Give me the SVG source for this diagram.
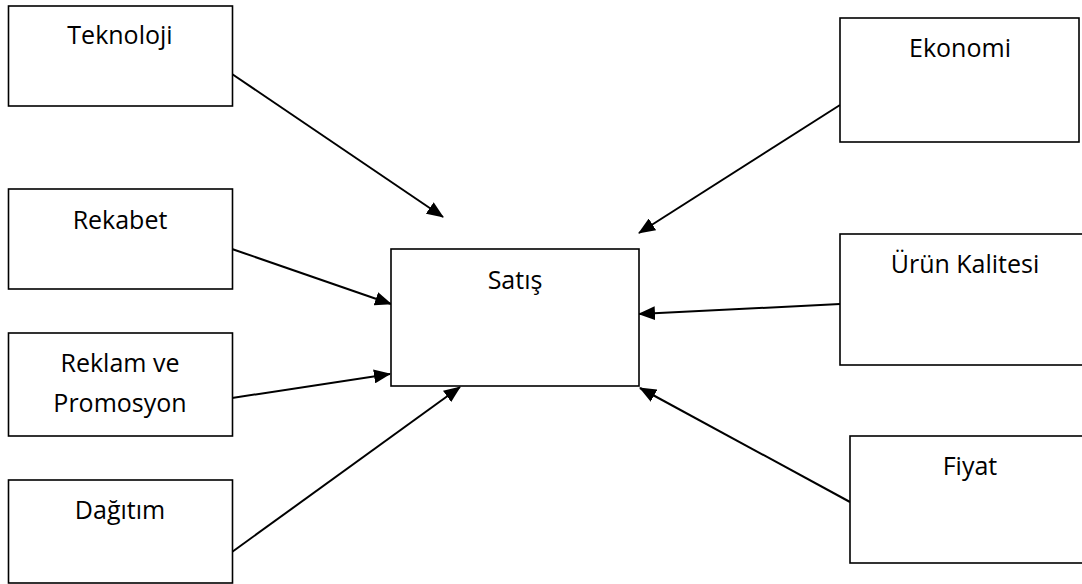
<svg xmlns="http://www.w3.org/2000/svg" width="1082" height="584" viewBox="0 0 1082 584">
<style>
.box{fill:#fff;stroke:#000;stroke-width:1.6}
.lbl{font-family:"Open Sans","Liberation Sans",sans-serif;font-size:25px;fill:#000;text-anchor:middle}
.con{stroke:#000;stroke-width:2;fill:none;marker-end:url(#ah)}
</style>
<defs>
<marker id="ah" markerUnits="userSpaceOnUse" markerWidth="18" markerHeight="14" refX="16" refY="7" orient="auto">
<path d="M0,0 L17,7 L0,14 Z" fill="#000"/>
</marker>
</defs>
<rect width="1082" height="584" fill="#fff"/>
<g id="connectors">
<line class="con" x1="232" y1="74" x2="443" y2="217"/>
<line class="con" x1="840" y1="105" x2="639" y2="233"/>
<line class="con" x1="232" y1="249" x2="391" y2="304"/>
<line class="con" x1="232" y1="398" x2="390" y2="374"/>
<line class="con" x1="232" y1="552" x2="460" y2="387"/>
<line class="con" x1="840" y1="304" x2="639" y2="314"/>
<line class="con" x1="850" y1="502" x2="640" y2="388"/>
</g>
<g id="teknoloji"><rect class="box" x="8.5" y="6" width="224" height="100"/><text class="lbl" x="120" y="44">Teknoloji</text></g>
<g id="ekonomi"><rect class="box" x="840" y="18" width="239" height="124"/><text class="lbl" x="960" y="57">Ekonomi</text></g>
<g id="rekabet"><rect class="box" x="8.5" y="189" width="224" height="100"/><text class="lbl" x="120" y="229">Rekabet</text></g>
<g id="satis"><rect class="box" x="391" y="249" width="248" height="137"/><text class="lbl" x="515" y="289">Satış</text></g>
<g id="urun-kalitesi"><rect class="box" x="840" y="234" width="250" height="131"/><text class="lbl" x="965" y="273">Ürün Kalitesi</text></g>
<g id="reklam"><rect class="box" x="8.5" y="333" width="224" height="103"/><text class="lbl" x="120" y="372">Reklam ve</text><text class="lbl" x="120" y="412">Promosyon</text></g>
<g id="fiyat"><rect class="box" x="850" y="436" width="240" height="127"/><text class="lbl" x="970" y="475">Fiyat</text></g>
<g id="dagitim"><rect class="box" x="8.5" y="480" width="224" height="103"/><text class="lbl" x="120" y="519">Dağıtım</text></g>
</svg>
